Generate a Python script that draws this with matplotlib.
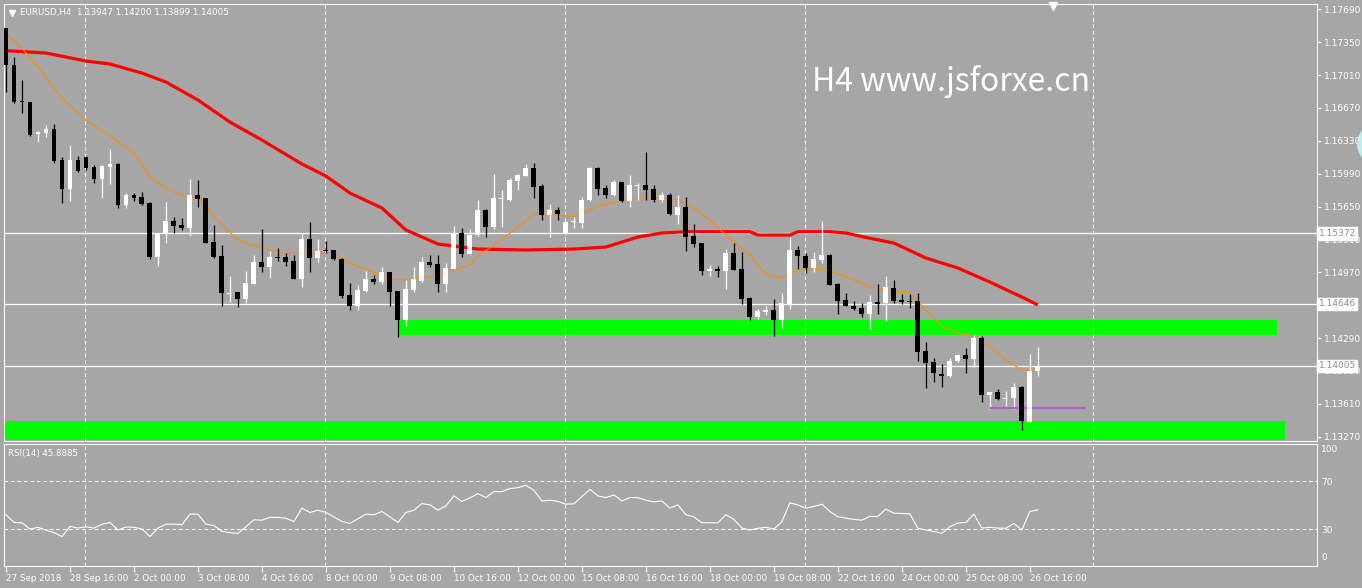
import matplotlib
matplotlib.use('Agg')
import matplotlib.pyplot as plt
from matplotlib.patches import Rectangle, Ellipse
from matplotlib.lines import Line2D

W, H = 1362, 588
BG = '#a6a6a6'

# ---------------- data ----------------
opens = [1.17493, 1.17114, 1.16742, 1.16734, 1.16397, 1.16414, 1.16452, 1.16132, 1.15835, 1.16132,
         1.16166, 1.16062, 1.15935, 1.16062, 1.16090, 1.15666, 1.15770, 1.15752, 1.15687, 1.15129,
         1.15374, 1.15501, 1.15460, 1.15429, 1.15773, 1.15736, 1.15284, 1.15139, 1.14746, 1.14767,
         1.14691, 1.14849, 1.15077, 1.15025, 1.15129, 1.15129, 1.15090, 1.14904, 1.15318, 1.15121,
         1.15194, 1.15201, 1.15111, 1.14736, 1.14625, 1.14780, 1.14901, 1.14873, 1.14970, 1.14777,
         1.14478, 1.14787, 1.14884, 1.15074, 1.15053, 1.14849, 1.15005, 1.15380, 1.15160, 1.15356,
         1.15615, 1.15442, 1.15728, 1.15718, 1.15915, 1.15969, 1.16052, 1.15863, 1.15563, 1.15615,
         1.15377, 1.15487, 1.15483, 1.15718, 1.16052, 1.15845, 1.15770, 1.15901, 1.15708, 1.15866,
         1.15876, 1.15832, 1.15718, 1.15770, 1.15563, 1.15649, 1.15346, 1.15270, 1.14987, 1.15005,
         1.14987, 1.15167, 1.15005, 1.14708, 1.14511, 1.14563, 1.14581, 1.14478, 1.14633, 1.15201,
         1.15139, 1.15012, 1.15098, 1.15149, 1.14849, 1.14684, 1.14622, 1.14604, 1.14539, 1.14663,
         1.14650, 1.14805, 1.14684, 1.14677, 1.14674, 1.14157, 1.14046, 1.13919, 1.13898, 1.14056,
         1.14115, 1.14074, 1.14288, 1.13702, 1.13730, 1.13660, 1.13674, 1.13781, 1.13426, 1.13947]
highs = [1.17500, 1.17200, 1.16959, 1.16734, 1.16431, 1.16494, 1.16504, 1.16160, 1.16287, 1.16173,
         1.16173, 1.16080, 1.16080, 1.16242, 1.16098, 1.15794, 1.15794, 1.15798, 1.15694, 1.15374,
         1.15697, 1.15545, 1.15529, 1.15932, 1.15922, 1.15742, 1.15460, 1.15250, 1.14932, 1.14770,
         1.14984, 1.15146, 1.15418, 1.15191, 1.15219, 1.15167, 1.15149, 1.15374, 1.15494, 1.15315,
         1.15297, 1.15201, 1.15115, 1.14857, 1.14839, 1.14987, 1.14943, 1.15022, 1.14977, 1.14777,
         1.14891, 1.15028, 1.15132, 1.15149, 1.15149, 1.15064, 1.15449, 1.15425, 1.15415, 1.15718,
         1.15622, 1.15987, 1.15821, 1.15942, 1.15987, 1.16090, 1.16098, 1.15883, 1.15677, 1.15643,
         1.15501, 1.15545, 1.15752, 1.16062, 1.16062, 1.15873, 1.15925, 1.15907, 1.15977, 1.15891,
         1.16217, 1.15873, 1.15798, 1.15787, 1.15770, 1.15746, 1.15467, 1.15277, 1.15046, 1.15036,
         1.15211, 1.15270, 1.15184, 1.14718, 1.14588, 1.14622, 1.14691, 1.14759, 1.15339, 1.15242,
         1.15167, 1.15177, 1.15501, 1.15157, 1.14863, 1.14753, 1.14674, 1.14650, 1.14736, 1.14846,
         1.14932, 1.14891, 1.14746, 1.14746, 1.14753, 1.14253, 1.14087, 1.14022, 1.14081, 1.14123,
         1.14185, 1.14322, 1.14312, 1.13736, 1.13761, 1.13743, 1.13823, 1.13795, 1.14126, 1.14200]
lows = [1.16838, 1.16724, 1.16621, 1.16383, 1.16321, 1.16373, 1.16104, 1.15690, 1.15711, 1.16004,
        1.16028, 1.15897, 1.15736, 1.15880, 1.15632, 1.15632, 1.15711, 1.15666, 1.15105, 1.15036,
        1.15277, 1.15380, 1.15408, 1.15346, 1.15649, 1.15270, 1.15115, 1.14625, 1.14666, 1.14615,
        1.14656, 1.14849, 1.14977, 1.14915, 1.15090, 1.15036, 1.14898, 1.14821, 1.14974, 1.15074,
        1.15167, 1.15098, 1.14708, 1.14581, 1.14581, 1.14770, 1.14846, 1.14846, 1.14625, 1.14305,
        1.14418, 1.14764, 1.14873, 1.15028, 1.14770, 1.14770, 1.15005, 1.15132, 1.15160, 1.15349,
        1.15339, 1.15418, 1.15442, 1.15708, 1.15821, 1.15969, 1.15742, 1.15511, 1.15339, 1.15511,
        1.15372, 1.15425, 1.15432, 1.15708, 1.15770, 1.15736, 1.15763, 1.15694, 1.15649, 1.15718,
        1.15718, 1.15700, 1.15700, 1.15563, 1.15470, 1.15194, 1.15235, 1.14943, 1.14932, 1.14925,
        1.14798, 1.14990, 1.14642, 1.14478, 1.14488, 1.14529, 1.14312, 1.14397, 1.14591, 1.15005,
        1.14966, 1.14977, 1.15070, 1.14835, 1.14539, 1.14620, 1.14581, 1.14511, 1.14381, 1.14539,
        1.14470, 1.14650, 1.14642, 1.14598, 1.14056, 1.13777, 1.13839, 1.13788, 1.13891, 1.14046,
        1.13932, 1.13994, 1.13632, 1.13554, 1.13650, 1.13588, 1.13554, 1.13340, 1.13420, 1.13899]
closes = [1.17114, 1.16734, 1.16728, 1.16390, 1.16418, 1.16452, 1.16121, 1.15835, 1.16132, 1.16021,
          1.16052, 1.15935, 1.16073, 1.16090, 1.15666, 1.15770, 1.15736, 1.15677, 1.15129, 1.15374,
          1.15501, 1.15452, 1.15429, 1.15770, 1.15731, 1.15277, 1.15129, 1.14759, 1.14759, 1.14691,
          1.14860, 1.15077, 1.15025, 1.15129, 1.15118, 1.15077, 1.14904, 1.15318, 1.15121, 1.15194,
          1.15190, 1.15105, 1.14725, 1.14625, 1.14787, 1.14898, 1.14873, 1.14970, 1.14770, 1.14478,
          1.14795, 1.14901, 1.15080, 1.15046, 1.14849, 1.15018, 1.15374, 1.15160, 1.15356, 1.15615,
          1.15442, 1.15742, 1.15742, 1.15925, 1.15977, 1.16052, 1.15856, 1.15563, 1.15615, 1.15570,
          1.15491, 1.15501, 1.15718, 1.16052, 1.15832, 1.15770, 1.15901, 1.15708, 1.15876, 1.15876,
          1.15821, 1.15718, 1.15770, 1.15573, 1.15649, 1.15332, 1.15263, 1.14987, 1.15005, 1.14987,
          1.15167, 1.14994, 1.14694, 1.14511, 1.14570, 1.14581, 1.14478, 1.14650, 1.15201, 1.15139,
          1.15018, 1.15108, 1.15149, 1.14839, 1.14677, 1.14625, 1.14591, 1.14539, 1.14660, 1.14642,
          1.14821, 1.14674, 1.14666, 1.14666, 1.14149, 1.14036, 1.13926, 1.13901, 1.14053, 1.14115,
          1.14074, 1.14288, 1.13702, 1.13730, 1.13660, 1.13671, 1.13781, 1.13436, 1.13950, 1.14005]

red_ma_idx = [0, 5, 10, 13, 17, 20, 24, 28, 32, 37, 40, 43, 47, 50, 54, 59, 65, 71, 75, 79, 82,
              85, 93, 94, 98, 99, 103, 105, 107, 111, 115, 119, 123, 127, 129]
red_ma_val = [1.17262, 1.17238, 1.17155, 1.17124, 1.17031, 1.16938, 1.16752, 1.16524, 1.16338,
              1.16090, 1.15966, 1.15790, 1.15635, 1.15408, 1.15263, 1.15211, 1.15201, 1.15211,
              1.15232, 1.15335, 1.15377, 1.15390, 1.15390, 1.15356, 1.15356, 1.15390, 1.15390,
              1.15377, 1.15339, 1.15273, 1.15118, 1.15015, 1.14870, 1.14715, 1.14633]

orange_ma_idx = [0, 2, 4, 7, 10, 13, 16, 18, 20, 22, 24, 26, 29, 32, 35, 38, 41, 43, 45, 48, 50,
                 53, 55, 58, 59, 61, 64, 66, 68, 71, 73, 74, 77, 80, 82, 84, 86, 88, 90, 93, 95,
                 97, 99, 102, 105, 108, 111, 113, 115, 117, 119, 121, 123, 125, 127, 128, 129]
orange_ma_val = [1.17442, 1.17287, 1.17096, 1.16770, 1.16545, 1.16380, 1.16204, 1.15959, 1.15839,
                 1.15763, 1.15759, 1.15545, 1.15304, 1.15219, 1.15167, 1.15167, 1.15167, 1.15064,
                 1.15000, 1.14904, 1.14891, 1.14925, 1.14966, 1.15046, 1.15139, 1.15253, 1.15436,
                 1.15573, 1.15573, 1.15545, 1.15615, 1.15656, 1.15711, 1.15752, 1.15740, 1.15718,
                 1.15632, 1.15511, 1.15356, 1.15149, 1.14953, 1.14913, 1.14994, 1.15012, 1.14925,
                 1.14821, 1.14770, 1.14759, 1.14581, 1.14408, 1.14340, 1.14312, 1.14201, 1.14064,
                 1.13960, 1.13960, 1.13984]

rsi = [41.9, 35.5, 35.2, 30.0, 31.4, 29.0, 27.0, 23.7, 32.2, 30.8,
       31.9, 30.8, 34.0, 35.5, 29.2, 31.7, 31.4, 30.0, 23.7, 30.8,
       34.1, 34.1, 33.6, 42.4, 42.4, 34.1, 32.8, 28.1, 27.0, 26.4,
       31.9, 37.7, 37.4, 39.7, 39.7, 39.0, 36.3, 47.4, 43.8, 45.7,
       43.8, 40.0, 36.3, 34.7, 38.5, 42.4, 41.9, 44.6, 40.0, 35.5,
       43.8, 45.7, 51.2, 50.1, 45.7, 49.3, 57.6, 52.9, 56.0, 59.5,
       56.2, 61.2, 61.2, 63.7, 64.5, 66.4, 62.3, 53.4, 54.0, 53.0,
       50.7, 51.0, 57.0, 63.1, 57.6, 56.2, 58.4, 53.4, 56.2, 56.2,
       54.0, 52.6, 53.4, 47.4, 50.1, 41.9, 40.2, 35.2, 35.2, 35.2,
       41.9, 38.0, 30.8, 29.2, 30.6, 31.4, 30.0, 36.1, 51.8, 50.1,
       47.4, 48.8, 50.7, 44.6, 40.2, 39.1, 38.0, 37.4, 40.5, 40.5,
       46.6, 43.2, 43.0, 42.7, 30.6, 29.2, 28.0, 26.4, 31.9, 35.0,
       35.5, 42.4, 30.8, 31.4, 30.8, 30.6, 34.7, 29.2, 44.6, 45.8885]

price_ticks = [1.17690, 1.17350, 1.17010, 1.16670, 1.16330, 1.15990, 1.15650, 1.15310,
               1.14970, 1.14630, 1.14290, 1.13950, 1.13610, 1.13270]
hidden_ticks = [1.14630]          # fully covered by a price box in the reference
hlines_prices = [1.15372, 1.14646, 1.14005]

time_tick_idx = [0, 8, 16, 24, 32, 40, 48, 56, 64, 72, 80, 88, 96, 104, 112, 120, 128]
time_tick_labels = ['27 Sep 2018', '28 Sep 16:00', '2 Oct 00:00', '3 Oct 08:00', '4 Oct 16:00',
                    '8 Oct 00:00', '9 Oct 08:00', '10 Oct 16:00', '12 Oct 00:00', '15 Oct 08:00',
                    '16 Oct 16:00', '18 Oct 00:00', '19 Oct 08:00', '22 Oct 16:00', '24 Oct 00:00',
                    '25 Oct 08:00', '26 Oct 16:00']

zone_upper = (49.0, 158.9, 1.14323, 1.14478)   # start idx, end idx, low, high
zone_lower = (-0.15, 159.9, 1.13236, 1.13433)
purple_level = (123, 135, 1.13571)

symbol = 'EURUSD,H4'
title_text = 'H4 www.jsforxe.cn'

# ---------------- figure ----------------
plt.rcParams['font.family'] = ['DejaVu Sans']
fig = plt.figure(figsize=(W / 100, H / 100), dpi=100, facecolor=BG)

def fx(px):
    return px / W

def fy(py):
    return 1 - py / H

ax = fig.add_axes([fx(4), fy(441), (1317 - 4) / W, (441 - 4) / H], facecolor=BG)
axr = fig.add_axes([fx(4), fy(566), (1317 - 4) / W, (566 - 443.5) / H], facecolor=BG)

XMIN, XMAX = -0.25, 163.9
for a in (ax, axr):
    a.set_xlim(XMIN, XMAX)
    for s in a.spines.values():
        s.set_color('white')
        s.set_linewidth(0.8)
ax.set_ylim(1.13226, 1.17745)
axr.set_ylim(-0.8, 101.25)

# grid (vertical dashed)
grid_x = [9.875, 39.875, 69.875, 99.875, 135.875]
for a in (ax, axr):
    for gx in grid_x:
        a.axvline(gx, color='white', lw=0.75, dashes=(3.6, 2.6), zorder=3)

# zones
for (x0, x1, lo, hi) in (zone_upper, zone_lower):
    ax.add_patch(Rectangle((x0, lo), x1 - x0, hi - lo, facecolor='#00ff00',
                           edgecolor='none', zorder=1))

# horizontal lines
for p in hlines_prices:
    ax.axhline(p, color='white', lw=0.9, zorder=2)

# moving averages
ax.plot(red_ma_idx, red_ma_val, color='#ff0000', lw=2.3, zorder=4, solid_capstyle='butt')
ax.plot(orange_ma_idx, orange_ma_val, color='#ff8c00', lw=0.8, zorder=4)

# candles
idx = list(range(len(opens)))
for i in idx:
    o, h, l, c = opens[i], highs[i], lows[i], closes[i]
    col = 'white' if c >= o else 'black'
    ax.vlines(i, l, h, color=col, lw=0.9, zorder=5)
    bot = min(o, c)
    hgt = max(abs(c - o), 0.00009)
    ax.bar(i, hgt, bottom=bot, width=0.62, color=col, edgecolor='none', zorder=6)

# purple level
ax.hlines(purple_level[2], purple_level[0], purple_level[1], color='#ba55d3', lw=1.5, zorder=5)

# price axis
ax.set_xticks([])
ax.set_yticks(price_ticks)
ax.set_yticklabels(['' if p in hidden_ticks else f'{p:.5f}' for p in price_ticks])
ax.tick_params(axis='y', left=False, right=True, labelleft=False, labelright=True,
               colors='white', length=3, width=0.8, labelsize=6.5, pad=2)

for p in hlines_prices:
    ax.text(1.0012, p, f'{p:.5f}', transform=ax.get_yaxis_transform(), ha='left', va='center',
            fontsize=6.5, color='#8e8e8e', clip_on=False, zorder=20,
            bbox=dict(boxstyle='square,pad=0.18', fc='white', ec='white'))

# RSI panel
axr.plot(idx, rsi, color='white', lw=0.8, zorder=4)
for lv in (70, 30):
    axr.axhline(lv, color='white', lw=0.75, dashes=(3.6, 2.6), zorder=3)
axr.set_yticks([70, 30])
axr.set_yticklabels(['70', '30'])
axr.tick_params(axis='y', left=False, right=True, labelleft=False, labelright=True,
                colors='white', length=0, labelsize=6.5, pad=3)
axr.text(1.003, 0.985, '100', transform=axr.transAxes, ha='left', va='top', fontsize=6.5,
         color='white', clip_on=False)
axr.text(1.003, 0.03, '0', transform=axr.transAxes, ha='left', va='bottom', fontsize=6.5,
         color='white', clip_on=False)
axr.text(0.003, 0.955, f'RSI(14) {rsi[-1]:.4f}', transform=axr.transAxes, ha='left', va='top',
         fontsize=6.2, color='white')

axr.set_xticks(time_tick_idx)
axr.set_xticklabels(time_tick_labels)
axr.tick_params(axis='x', colors='white', length=4, width=0.8, labelsize=6.3, pad=1.5,
                direction='out')
for lbl in axr.get_xticklabels():
    lbl.set_ha('left')

# header & title
fig.text(fx(20), fy(13), f'{symbol}  {opens[-1]:.5f} {highs[-1]:.5f} {lows[-1]:.5f} {closes[-1]:.5f}',
         fontsize=6.3, color='white', ha='left', va='center')
fig.add_artist(Line2D([fx(12)], [fy(13)], marker='v', color='white', markersize=4.5,
                      transform=fig.transFigure))
fig.add_artist(Line2D([fx(1053)], [fy(6)], marker='v', color='white', markersize=6,
                      transform=fig.transFigure))
fig.text(fx(812), fy(91), title_text, fontsize=23, color='white', ha='left', va='baseline',
         family=['Noto Sans CJK SC', 'DejaVu Sans'])
fig.add_artist(Ellipse((fx(1378), fy(144)), 2 * 21 / W, 2 * 21 / H, transform=fig.transFigure,
                       facecolor='#bdeee9', edgecolor='none'))

fig.savefig('out.png', dpi=100, facecolor=BG)
